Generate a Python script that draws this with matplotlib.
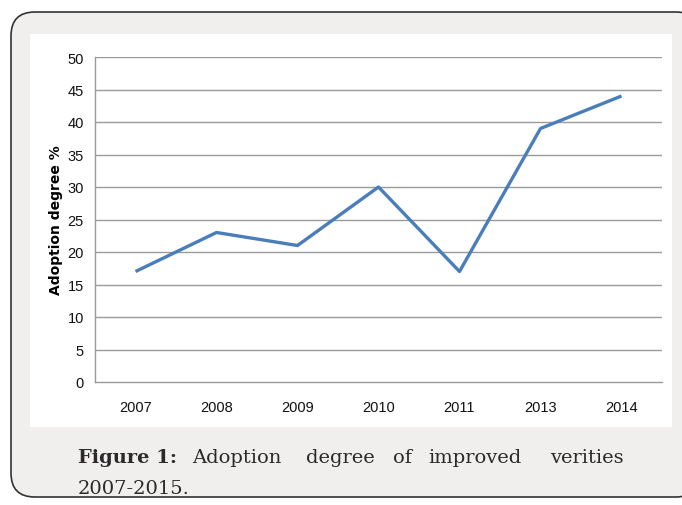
import matplotlib.pyplot as plt
from matplotlib.patches import FancyBboxPatch, Rectangle

#### data
years = ['2007', '2008', '2009', '2010', '2011', '2013', '2014']
adoption = [17, 23, 21, 30, 17, 39, 44]
yticks = list(range(0, 51, 5))

W, H = 682, 506
fig = plt.figure(figsize=(W / 100, H / 100), dpi=100)
fig.patch.set_facecolor('white')

# outer rounded card + white chart panel (pixel -> figure coords)
def fx(px): return px / W
def fy(py): return 1 - py / H

card = FancyBboxPatch((fx(11), fy(498)), fx(700) - fx(11), fy(13) - fy(498),
                      boxstyle='round,pad=0,rounding_size=0.035',
                      transform=fig.transFigure, facecolor='#f0efee',
                      edgecolor='#333333', linewidth=1.2, mutation_aspect=W / H,
                      zorder=-2)
fig.patches.append(card)
panel = Rectangle((fx(30), fy(428)), fx(672) - fx(30), fy(35) - fy(428),
                  transform=fig.transFigure, facecolor='white', edgecolor='none',
                  zorder=-1)
fig.patches.append(panel)

#### plot
ax = fig.add_axes([fx(95), fy(383), fx(662) - fx(95), fy(58) - fy(383)])
ax.set_zorder(1)
ax.set_facecolor('none')
x = list(range(len(years)))
ax.plot(x, adoption, color='#4a7ebb', linewidth=2.4, solid_capstyle='butt')

ax.set_xlim(-0.5, len(years) - 0.5)
ax.set_ylim(0, 50)
ax.set_yticks(yticks)
ax.set_xticks(x)
ax.set_xticklabels(years)
for t in yticks[1:]:
    ax.axhline(t, color='#9a9a9a', linewidth=1.0, zorder=0)

for s in ['top', 'right']:
    ax.spines[s].set_visible(False)
for s in ['left', 'bottom']:
    ax.spines[s].set_color('#9a9a9a')
    ax.spines[s].set_linewidth(1.0)
ax.tick_params(length=0, labelsize=10.5, colors='#111111', pad=8)
ax.tick_params(axis='x', pad=13)
for lab in ax.get_xticklabels() + ax.get_yticklabels():
    lab.set_family('Liberation Sans')
ax.set_ylabel('Adoption degree %', fontsize=10, fontweight='bold', labelpad=3)

# caption, spread out like justified text
words = ['Adoption', 'degree', 'of', 'improved', 'verities']
word_x = [192, 306, 393, 428, 550]
fig.text(fx(78), fy(463), 'Figure 1:', fontsize=14, fontweight='bold',
         family='DejaVu Serif', color='#2a2a2a')
for w, px in zip(words, word_x):
    fig.text(fx(px), fy(463), w, fontsize=14, family='DejaVu Serif', color='#2a2a2a')
fig.text(fx(78), fy(494), '2007-2015.', fontsize=14, family='DejaVu Serif', color='#2a2a2a')

fig.savefig('out.png', dpi=100)
